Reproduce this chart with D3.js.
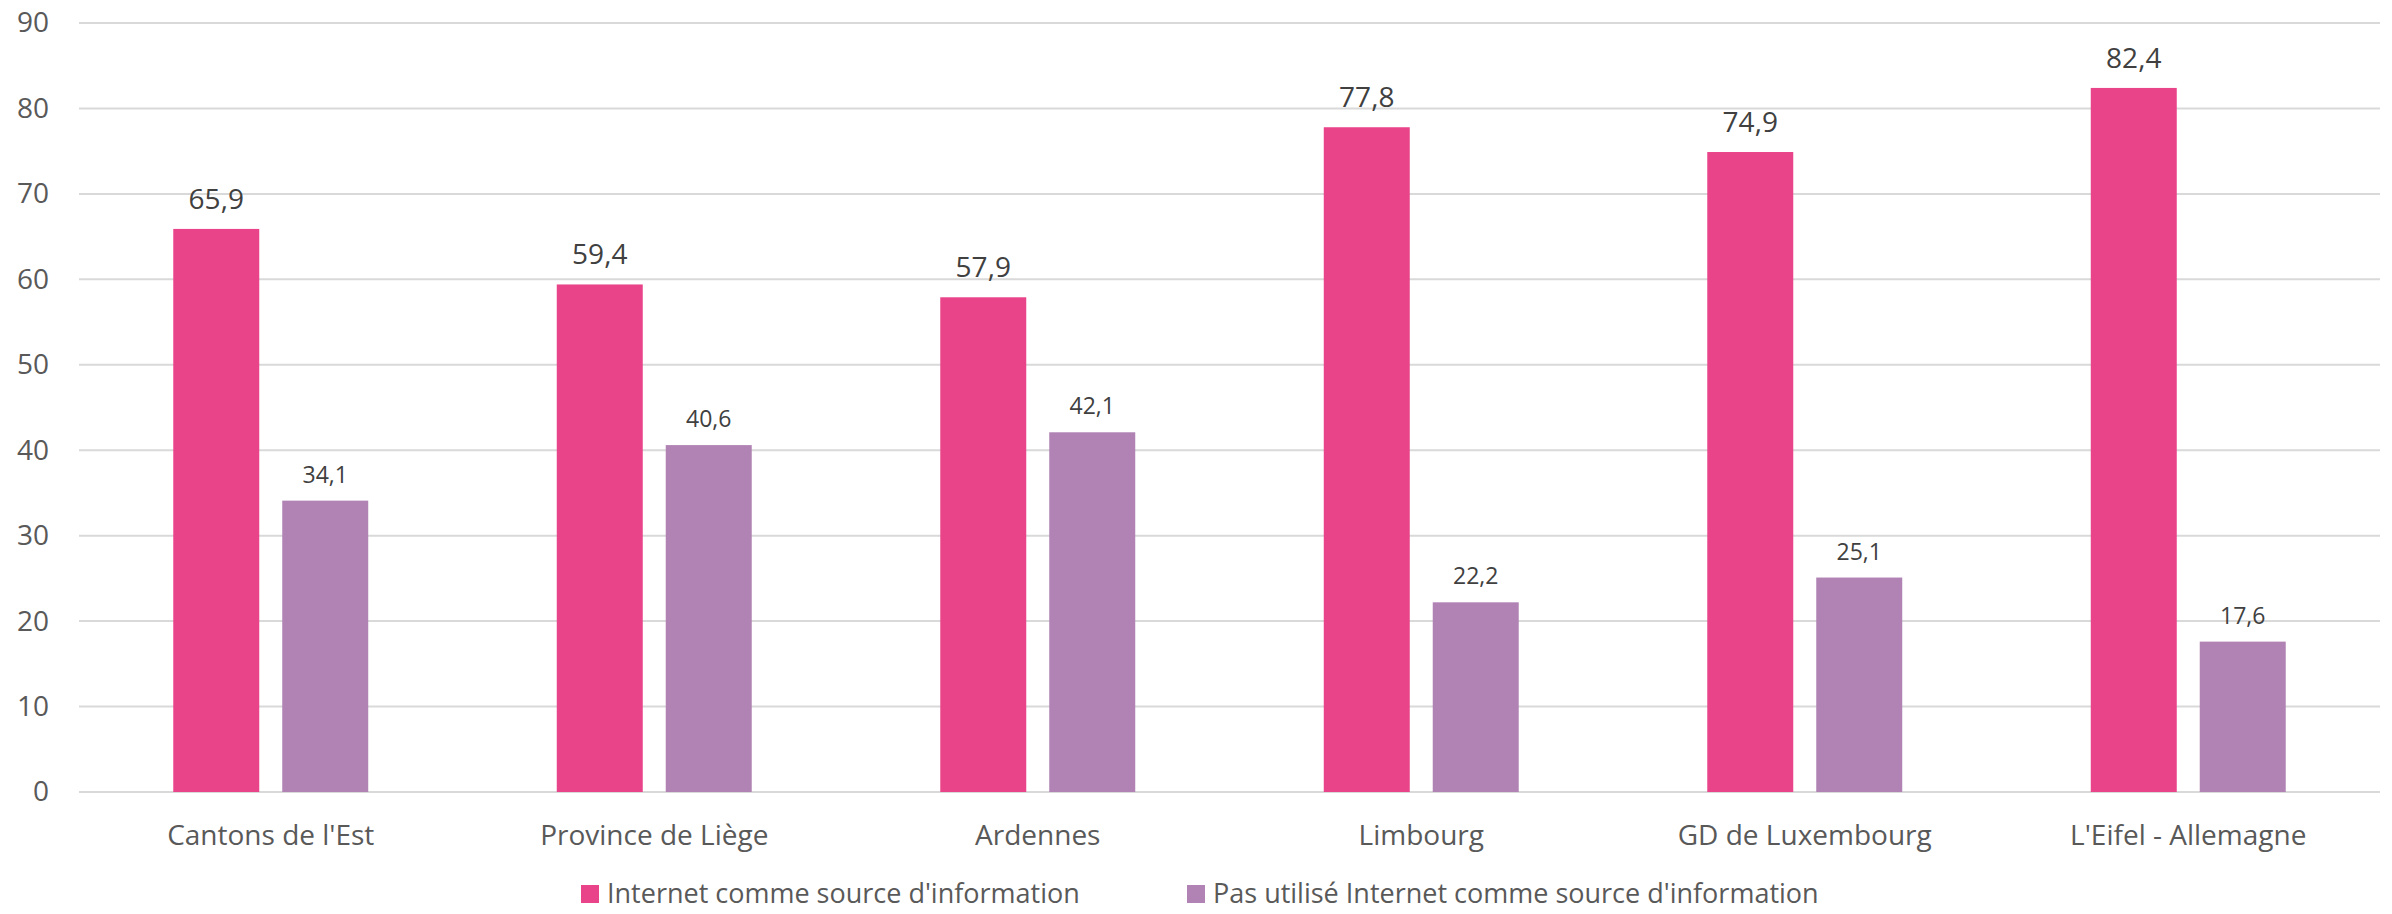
<!DOCTYPE html>
<html>
<head>
<meta charset="utf-8">
<script src="https://cdn.jsdelivr.net/npm/d3@7"></script>
<style>
  body { margin: 0; background: #fff; }
  text { font-family: "Open Sans", sans-serif; }
</style>
</head>
<body>
<svg id="chart" width="2392" height="914"></svg>
<script>
var categories = ["Cantons de l'Est", "Province de Liège", "Ardennes", "Limbourg", "GD de Luxembourg", "L'Eifel - Allemagne"];
var seriesNames = ["Internet comme source d'information", "Pas utilisé Internet comme source d'information"];
var internetValues = [65.9, 59.4, 57.9, 77.8, 74.9, 82.4];
var nonInternetValues = [34.1, 40.6, 42.1, 22.2, 25.1, 17.6];
var yTicks = [0, 10, 20, 30, 40, 50, 60, 70, 80, 90];

var colors = ["#e9448a", "#b083b4"];
var margin = { top: 23, right: 12, bottom: 122, left: 79 };
var width = 2392 - margin.left - margin.right;
var height = 914 - margin.top - margin.bottom;

var svg = d3.select('#chart').append('g')
  .attr('transform', 'translate(' + margin.left + ', ' + margin.top + ')');

var rows = categories.map(function (c, i) {
  return { cat: c, values: [internetValues[i], nonInternetValues[i]] };
});

var x0 = d3.scaleBand().domain(categories).range([0, width]).padding(0);
var x1 = d3.scaleBand().domain([0, 1]).range([0, x0.bandwidth()])
  .paddingInner(0.211).paddingOuter(0.865);
var y = d3.scaleLinear().domain([0, 90]).range([height, 0]);

// gridlines
svg.append('g').selectAll('line')
  .data(yTicks)
  .enter().append('line')
  .attr('x1', 0).attr('x2', width)
  .attr('y1', function (d) { return y(d); })
  .attr('y2', function (d) { return y(d); })
  .attr('stroke', '#d9d9d9')
  .attr('stroke-width', 2);

// y labels
var yAxis = d3.axisLeft(y).tickValues(yTicks).tickSize(0).tickPadding(30);
var gy = svg.append('g').call(yAxis);
gy.select('.domain').remove();
gy.selectAll('text')
  .style('font-size', '28px')
  .attr('fill', '#595959');

// x labels
var xAxis = d3.axisBottom(x0).tickSize(0).tickPadding(33);
var gx = svg.append('g').attr('transform', 'translate(0,' + height + ')').call(xAxis);
gx.select('.domain').remove();
gx.selectAll('text')
  .style('font-size', '28px')
  .attr('fill', '#595959');

var groups = svg.selectAll('.grp')
  .data(rows)
  .enter().append('g')
  .attr('class', 'grp')
  .attr('transform', function (d) { return 'translate(' + x0(d.cat) + ',0)'; });

groups.selectAll('rect')
  .data(function (d) { return d.values.map(function (v, i) { return { i: i, v: v }; }); })
  .enter().append('rect')
  .attr('x', function (d) { return x1(d.i); })
  .attr('width', x1.bandwidth())
  .attr('y', function (d) { return y(d.v); })
  .attr('height', function (d) { return height - y(d.v); })
  .attr('fill', function (d) { return colors[d.i]; });

groups.selectAll('.lbl')
  .data(function (d) { return d.values.map(function (v, i) { return { i: i, v: v }; }); })
  .enter().append('text')
  .attr('class', 'lbl')
  .attr('x', function (d) { return x1(d.i) + x1.bandwidth() / 2; })
  .attr('y', function (d) { return y(d.v) - (d.i === 0 ? 20 : 18); })
  .attr('text-anchor', 'middle')
  .style('font-size', function (d) { return d.i === 0 ? '28px' : '23px'; })
  .attr('fill', '#404040')
  .text(function (d) { return d3.format('.1f')(d.v).replace('.', ','); });

// legend
var legendX = [502, 1108];
var legend = svg.selectAll('.leg')
  .data(seriesNames)
  .enter().append('g')
  .attr('class', 'leg')
  .attr('transform', function (d, i) { return 'translate(' + legendX[i] + ',' + (height + 93) + ')'; });
legend.append('rect')
  .attr('width', 18).attr('height', 18)
  .attr('fill', function (d, i) { return colors[i]; });
legend.append('text')
  .attr('x', 26).attr('y', 9).attr('dy', '0.35em')
  .style('font-size', '27px')
  .attr('fill', '#595959')
  .text(function (d) { return d; });
</script>
</body>
</html>
